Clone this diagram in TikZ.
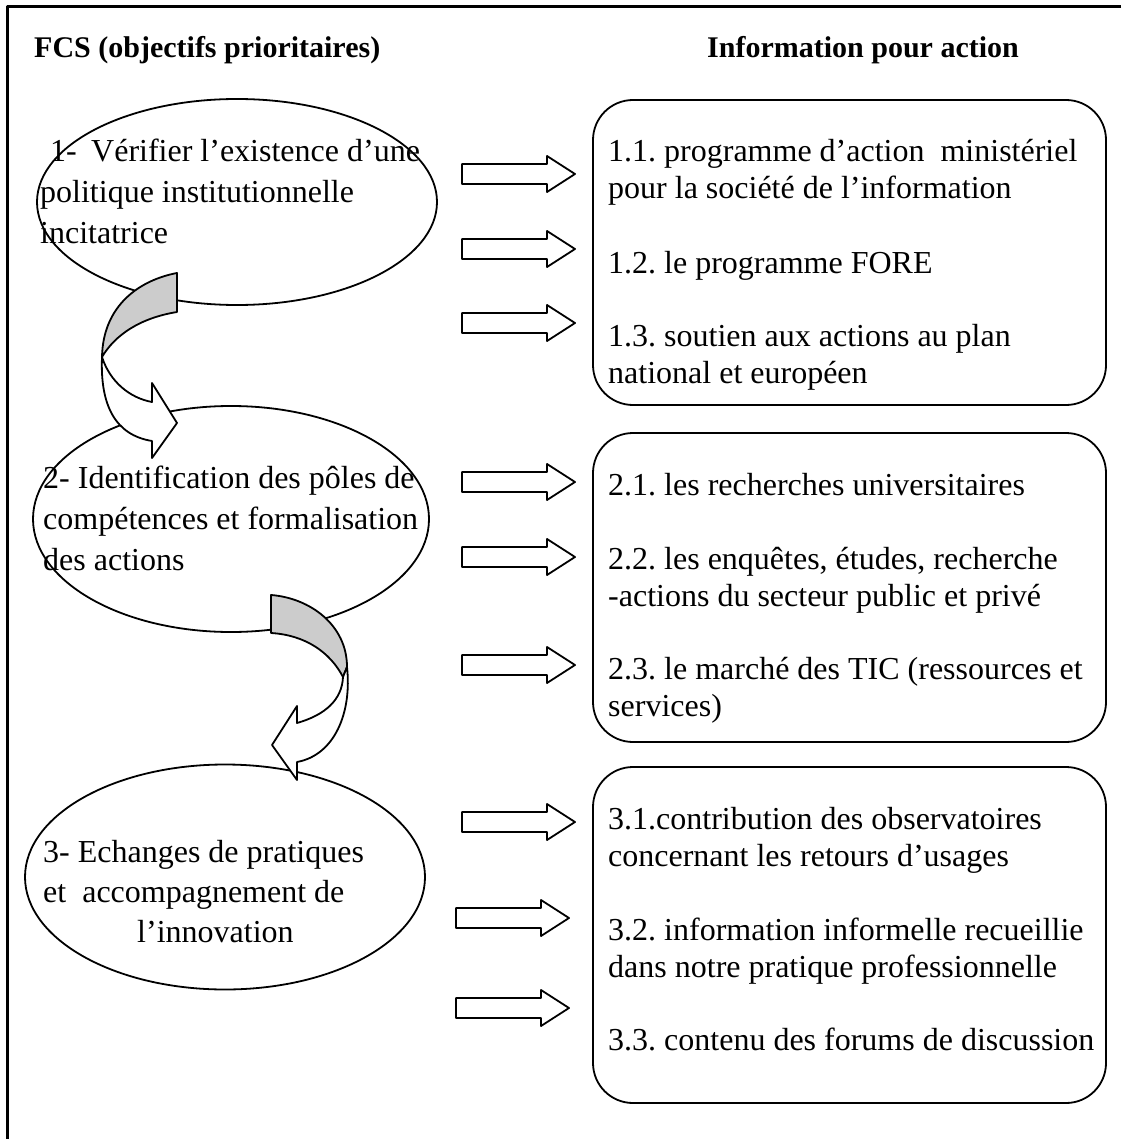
\documentclass[tikz,border=0pt]{standalone}
\usepackage{fontspec}
\setmainfont{Liberation Serif}
\usetikzlibrary{shapes.geometric}
\frenchspacing
\begin{document}
\begin{tikzpicture}[x=1pt,y=-1pt,line join=round,
  frame/.style={line width=3pt},
  goal/.style={draw, ellipse, line width=1.8pt, inner sep=0},
  infobox/.style={draw, rectangle, rounded corners=40pt, line width=1.8pt, inner sep=0},
  body/.style={anchor=base west, inner sep=0, font=\fontsize{32}{38}\selectfont},
  head/.style={anchor=base west, inner sep=0, font=\fontsize{30}{36}\selectfont\bfseries},
  outline/.style={draw, line width=1.8pt, fill=white},
  twist/.style={draw, line width=1.8pt, fill=gray!40},
  blockarrow/.pic={\path[outline] (0,-10) -- (85,-10) -- (85,-18) -- (113,0) -- (85,18) -- (85,10) -- (0,10) -- cycle;}
]
\useasboundingbox (0,0) rectangle (1121,1139);

% frame (top and left edges)
\coordinate (fTR) at (1121,7);
\coordinate (fTL) at (7,7);
\coordinate (fBL) at (7,1139);
\draw[frame] (fTR) -- (fTL) -- (fBL);

% column headings
\node[head] (h1) at (34,58) {FCS (objectifs prioritaires)};
\node[head] (h2) at (707,58) {Information pour action};

% objectives
\node[goal, minimum width=400pt, minimum height=206pt] (g1) at (237,202) {};
\node[goal, minimum width=396pt, minimum height=226pt] (g2) at (231,519) {};
\node[goal, minimum width=400pt, minimum height=225pt] (g3) at (225,877) {};

% information boxes
\node[infobox, minimum width=513pt, minimum height=305pt] (b1) at (849.5,252.5) {};
\node[infobox, minimum width=513pt, minimum height=309pt] (b2) at (849.5,587.5) {};
\node[infobox, minimum width=513pt, minimum height=336pt] (b3) at (849.5,935) {};

% curved arrow from objective 1 to objective 2
\path[twist] (177,273) .. controls (140,280) and (103,305) .. (102,357)
  .. controls (115,335) and (140,318) .. (177,312) -- cycle;
\path[outline] (102,357) .. controls (100,405) and (115,435) .. (152,441)
  -- (152,458) -- (177,423) -- (152,383) -- (152,402)
  .. controls (130,398) and (110,382) .. (102,357) -- cycle;

% curved arrow from objective 2 to objective 3
\path[twist] (271,595) .. controls (310,598) and (347,625) .. (347,667)
  -- (343,677) .. controls (330,652) and (305,635) .. (271,633) -- cycle;
\path[outline] (347,667) .. controls (352,712) and (335,755) .. (297,762)
  -- (297,780) -- (272,745) -- (297,706) -- (297,723)
  .. controls (325,715) and (342,700) .. (343,677) -- cycle;

% block arrows towards the boxes
\pic (a11) at (462,174) {blockarrow};
\pic (a12) at (462,249) {blockarrow};
\pic (a13) at (462,323) {blockarrow};
\pic (a21) at (462,482) {blockarrow};
\pic (a22) at (462,557) {blockarrow};
\pic (a23) at (462,665) {blockarrow};
\pic (a31) at (462,822) {blockarrow};
\pic (a32) at (456,918) {blockarrow};
\pic (a33) at (456,1008) {blockarrow};

% objective texts
\node[body] (t1a) at (50,162) {1-};
\node[body] (t1d) at (91,162) {Vérifier l’existence d’une};
\node[body] (t1b) at (40,203) {politique institutionnelle};
\node[body] (t1c) at (40,244) {incitatrice};
\node[body] (t2a) at (43,488) {2- Identification des pôles de};
\node[body] (t2b) at (43,529) {compétences et formalisation};
\node[body] (t2c) at (43,570) {des actions};
\node[body] (t3a) at (43,862) {3- Echanges de pratiques};
\node[body] (t3b) at (43,902) {et\ \ accompagnement de};
\node[body] (t3c) at (137,942) {l’innovation};

% box texts
\node[body] (i11a) at (608,162) {1.1. programme d’action\ \ ministériel};
\node[body] (i11b) at (608,199) {pour la société de l’information};
\node[body] (i12)  at (608,273) {1.2. le programme FORE};
\node[body] (i13a) at (608,346) {1.3. soutien aux actions au plan};
\node[body] (i13b) at (608,383) {national et européen};
\node[body] (i21)  at (608,495) {2.1. les recherches universitaires};
\node[body] (i22a) at (608,569) {2.2. les enquêtes, études, recherche};
\node[body] (i22b) at (608,606) {-actions du secteur public et privé};
\node[body] (i23a) at (608,679) {2.3. le marché des TIC (ressources et};
\node[body] (i23b) at (608,716) {services)};
\node[body] (i31a) at (608,829) {3.1.contribution des observatoires};
\node[body] (i31b) at (608,866) {concernant les retours d’usages};
\node[body] (i32a) at (608,940) {3.2. information informelle recueillie};
\node[body] (i32b) at (608,977) {dans notre pratique professionnelle};
\node[body] (i33)  at (608,1050) {3.3. contenu des forums de discussion};
\end{tikzpicture}
\end{document}
